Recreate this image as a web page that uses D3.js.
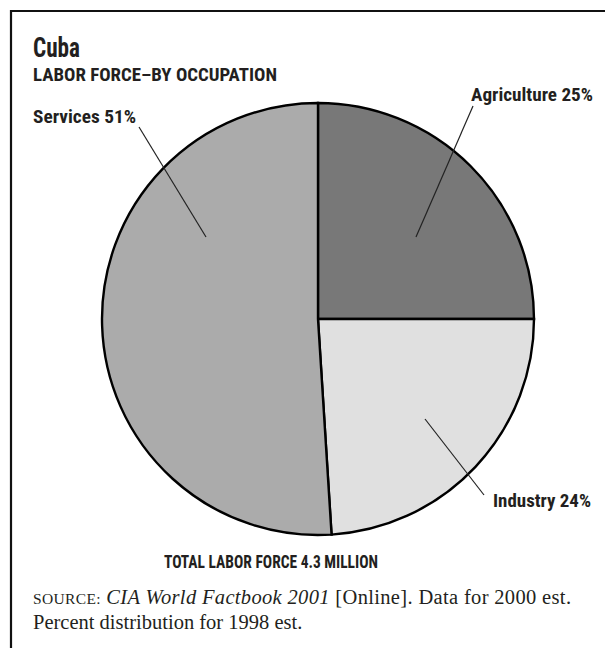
<!DOCTYPE html>
<html>
<head>
<meta charset="utf-8">
<script src="https://cdn.jsdelivr.net/npm/d3@7"></script>
<style>
  html, body { margin: 0; padding: 0; background: #fff; }
  svg { display: block; }
  .head { font-family: "Roboto Condensed", "Liberation Sans Narrow", "DejaVu Sans Condensed", "Liberation Sans", sans-serif; font-weight: bold; fill: #231f20; }
  .note { font-family: "Liberation Serif", "DejaVu Serif", serif; fill: #231f20; }
</style>
</head>
<body>
<svg id="chart" width="605" height="648"></svg>
<script>
// Labor force by occupation (percent)
const categories = ["Agriculture", "Industry", "Services"];
const shares = [25, 24, 51];
const fills = ["#787878", "#e0e0e0", "#ababab"];

const titleText = "Cuba";
const subtitleText = "LABOR FORCE\u2013BY OCCUPATION";
const totalText = "TOTAL LABOR FORCE 4.3 MILLION";

// Callout layout: label anchor and leader line ends
const callouts = [
  { label: "Agriculture 25%", x: 471, y: 101, w: 122, line: [[473, 106], [416, 237]] },
  { label: "Industry 24%",    x: 493, y: 507, w: 98,  line: [[425, 419], [484, 495]] },
  { label: "Services 51%",    x: 33,  y: 123, w: 103, line: [[139, 127], [206, 237]] }
];

const svg = d3.select("#chart");
const W = 605, H = 648;

// Frame (top and left edges)
svg.append("path")
  .attr("d", `M11,${H} V11 H${W}`)
  .attr("fill", "none").attr("stroke", "#111").attr("stroke-width", 2.2);

function fit(sel, w, mode) {
  sel.attr("textLength", w).attr("lengthAdjust", mode || "spacingAndGlyphs");
  return sel;
}

// Titles
fit(svg.append("text").attr("class", "head")
  .attr("x", 33).attr("y", 57).attr("font-size", 27).text(titleText), 47);
fit(svg.append("text").attr("class", "head")
  .attr("x", 33).attr("y", 81).attr("font-size", 18).text(subtitleText), 244);

// Pie
const cx = 318, cy = 319, R = 216;
const pie = d3.pie().sort(null).value(d => d.v);
const arc = d3.arc().innerRadius(0).outerRadius(R);
const data = categories.map((c, i) => ({ c, v: shares[i], fill: fills[i] }));

const g = svg.append("g").attr("transform", `translate(${cx},${cy})`);
g.selectAll("path.slice")
  .data(pie(data))
  .join("path")
  .attr("class", "slice")
  .attr("d", arc)
  .attr("fill", d => d.data.fill)
  .attr("stroke", "#000")
  .attr("stroke-width", 2.4)
  .attr("stroke-linejoin", "miter");

// Leader lines and callout labels
svg.selectAll("line.leader")
  .data(callouts)
  .join("line")
  .attr("class", "leader")
  .attr("x1", d => d.line[0][0]).attr("y1", d => d.line[0][1])
  .attr("x2", d => d.line[1][0]).attr("y2", d => d.line[1][1])
  .attr("stroke", "#222").attr("stroke-width", 1.2);

svg.selectAll("text.callout")
  .data(callouts)
  .join("text")
  .attr("class", "callout head")
  .attr("x", d => d.x).attr("y", d => d.y)
  .attr("font-size", 18)
  .attr("textLength", d => d.w)
  .attr("lengthAdjust", "spacingAndGlyphs")
  .text(d => d.label);

// Total
fit(svg.append("text").attr("class", "head")
  .attr("x", 164).attr("y", 568).attr("font-size", 18).text(totalText), 214);

// Source note
const src = svg.append("text").attr("class", "note")
  .attr("x", 33).attr("y", 604).attr("font-size", 20.5);
src.append("tspan").attr("font-size", 15.5).text("SOURCE:");
src.append("tspan").text(" ");
src.append("tspan").attr("font-style", "italic").text("CIA World Factbook 2001");
src.append("tspan").text(" [Online]. Data for 2000 est.");
fit(src, 538, "spacing");
svg.append("text").attr("class", "note")
  .attr("x", 33).attr("y", 629).attr("font-size", 20.5)
  .text("Percent distribution for 1998 est.");
</script>
</body>
</html>
